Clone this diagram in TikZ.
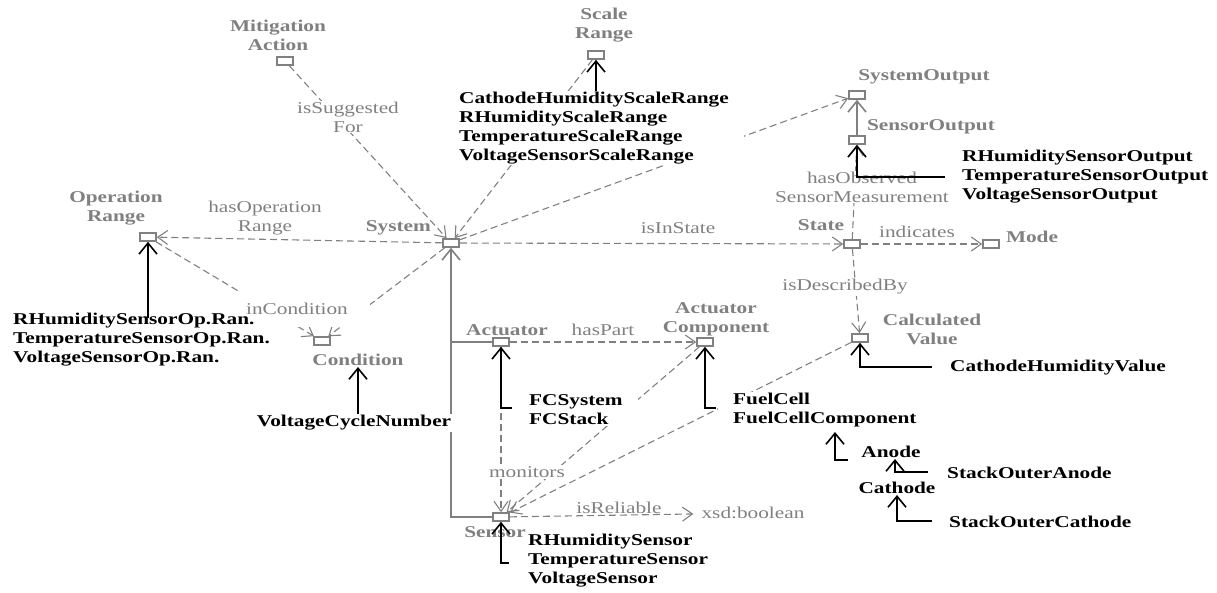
\documentclass[tikz,border=0pt]{standalone}
\usepackage{fontspec}
\setmainfont{Liberation Serif}[FakeStretch=1.29]
\usetikzlibrary{arrows.meta}
\definecolor{gcol}{RGB}{128,128,128}
\newcommand\fsz{\fontsize{16.5}{19}\selectfont}
\begin{document}
\begin{tikzpicture}[x=1pt,y=-1pt,
  cls/.style={draw=gcol, line width=1.6pt, fill=white, minimum width=16pt, minimum height=8pt, inner sep=0pt},
  clab/.style={text=gcol, font=\fsz\bfseries, align=center, inner sep=1pt},
  plab/.style={text=gcol, font=\fsz, align=center, inner sep=1pt},
  cover/.style={fill=white},
  inst/.style={font=\fsz\bfseries, align=left, fill=white, inner sep=1pt, anchor=west},
  pad/.style={inner xsep=15pt},
  prop/.style={draw=gcol, line width=1.1pt, dash pattern=on 7pt off 4pt, -{Straight Barb[length=10pt,width=14pt]}},
  tree/.style={draw=gcol, line width=1.6pt},
  treearr/.style={tree, -{Straight Barb[length=11pt,width=18pt]}},
  instarr/.style={draw=black, line width=1.6pt, -{Straight Barb[length=11pt,width=18pt]}}
]
\useasboundingbox (0,0) rectangle (1217,592);
% class boxes
\node[cls] (ma) at (285,61) {};
\node[cls] (sr) at (596,55) {};
\node[cls] (sys) at (451,243) {};
\node[cls] (opr) at (148,237) {};
\node[cls] (cond) at (322,341) {};
\node[cls] (act) at (501,342) {};
\node[cls] (actc) at (705,342) {};
\node[cls] (sen) at (501,517) {};
\node[cls] (st) at (852,244) {};
\node[cls] (mode) at (991,244) {};
\node[cls] (so) at (857,95) {};
\node[cls] (sno) at (857,140) {};
\node[cls] (cv) at (860,338) {};
\node[plab, inner xsep=8pt] (xsd) at (753,513) {xsd:boolean};
% object properties
\draw[prop] (ma) -- (sys);
\draw[prop] (sr) -- (sys);
\draw[prop] (sys) -- (so);
\draw[prop] (sys) -- (opr);
\draw[prop] (sys) -- (st);
\draw[prop] (opr) -- (cond);
\draw[prop] (sys) -- (cond);
\draw[prop] (act) -- (actc);
\draw[prop] (act) -- (sen);
\draw[prop] (actc) -- (sen);
\draw[prop] (cv) -- (sen);
\draw[prop] (sen) -- (xsd);
\draw[prop] (st) -- (mode);
\draw[prop] (st) -- (sno);
\draw[prop] (st) -- (cv);
% subclass tree
\draw[tree] (act.west) -- (act.west -| sys);
\draw[treearr] (sen.west) -| (sys);
\draw[treearr] (sno) -- (so);
% label that hides part of two edges
\node[plab, cover, inner xsep=22pt, inner ysep=12pt] (l4) at (297,309) {inCondition};
% individuals
\node[inst, pad] (srinst) at (444,128) {CathodeHumidityScaleRange\\RHumidityScaleRange\\TemperatureScaleRange\\VoltageSensorScaleRange};
\node[inst, fill=none] (oprinst) at (12,340) {RHumiditySensorOp.Ran.\\TemperatureSensorOp.Ran.\\VoltageSensorOp.Ran.};
\node[inst, anchor=center] (vcn) at (354,423) {VoltageCycleNumber};
\node[inst, pad] (actinst) at (514,410) {FCSystem\\FCStack};
\node[inst, pad] (actcinst) at (718,410) {FuelCell\\FuelCellComponent};
\node[inst, pad] (seninst) at (513,561) {RHumiditySensor\\TemperatureSensor\\VoltageSensor};
\node[inst, pad] (soinst) at (947,177) {RHumiditySensorOutput\\TemperatureSensorOutput\\VoltageSensorOutput};
\node[inst] (cvinst) at (949,368) {CathodeHumidityValue};
\node[inst, anchor=center] (anode) at (891,452) {Anode};
\node[inst] (soa) at (946,473) {StackOuterAnode};
\node[inst, anchor=center] (cathode) at (897,488) {Cathode};
\node[inst] (soc) at (948,522) {StackOuterCathode};
% property labels
\node[plab, cover] (l1) at (348,117) {isSuggested\\For};
\node[plab] (l2) at (265,218) {hasOperation\\Range};
\node[plab] (l3) at (678,228) {isInState};
\node[plab] (l5) at (603,330) {hasPart};
\node[plab, cover] (l6) at (527,472) {monitors};
\node[plab] (l7) at (619,508) {isReliable};
\node[plab] (l8) at (917,232) {indicates};
\node[plab, cover] (l9) at (862,187) {hasObserved\\SensorMeasurement};
\node[plab, cover] (l10) at (845,287) {isDescribedBy};
% class labels
\node[clab] (malab) at (278,35) {Mitigation\\Action};
\node[clab] (srlab) at (604,25) {Scale\\Range};
\node[clab, anchor=east] (syslab) at (432,228) {System};
\node[clab] (oprlab) at (116,208) {Operation\\Range};
\node[clab] (condlab) at (358,360) {Condition};
\node[clab] (actlab) at (507,330) {Actuator};
\node[clab] (actclab) at (716,319) {Actuator\\Component};
\node[clab] (senlab) at (495,532) {Sensor};
\node[clab] (stlab) at (821,225) {State};
\node[clab] (modelab) at (1032,237) {Mode};
\node[clab] (solab) at (924,77) {SystemOutput};
\node[clab] (snolab) at (931,127) {SensorOutput};
\node[clab] (cvlab) at (932,329) {Calculated\\Value};
% instance-of arrows
\draw[instarr] (srinst.north -| sr) -- (sr);
\coordinate (oprk) at (148,318);
\draw[instarr] (oprk) -- (opr);
\draw[instarr] (vcn.north -| condlab) -- (condlab.south);
\coordinate (actk) at (512,408);
\draw[instarr] (actk) -| (act);
\coordinate (actck) at (716,408);
\draw[instarr] (actck) -| (actc);
\coordinate (senk) at (509,563);
\draw[instarr] (senk) -| (sen);
\coordinate (cvk) at (932,367);
\draw[instarr] (cvk) -| (cv);
\coordinate (sok) at (945,177);
\draw[instarr] (sok) -| (sno);
\coordinate (fcck) at (835,432);
\coordinate (anodek) at (848,460);
\draw[instarr] (anodek) -| (fcck);
\coordinate (soak) at (928,472);
\draw[instarr] (soak) -| ([xshift=4pt]anode.south);
\coordinate (sock) at (932,521);
\draw[instarr] (sock) -| (cathode.south);
\end{tikzpicture}
\end{document}
